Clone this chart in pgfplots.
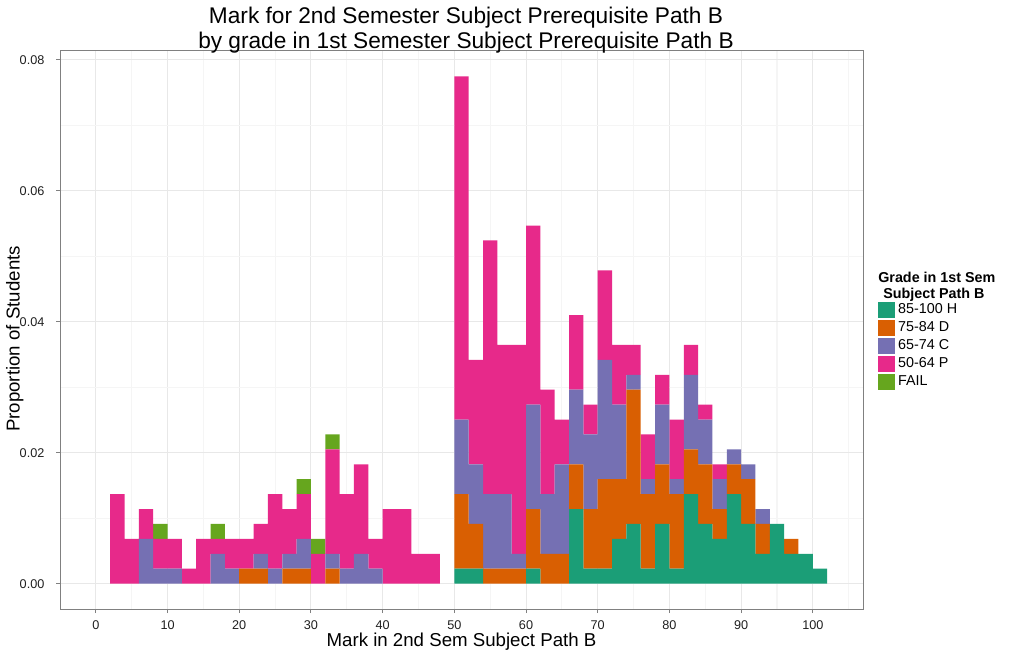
\documentclass[border=0pt]{standalone}
\usepackage{fontspec}
\setmainfont{Liberation Sans}
\usepackage{pgfplots}
\usepackage{pgfplotstable}
\pgfplotsset{compat=1.18}
\definecolor{gradeH}{HTML}{1B9E77}
\definecolor{gradeD}{HTML}{D95F02}
\definecolor{gradeC}{HTML}{7570B3}
\definecolor{gradeP}{HTML}{E7298A}
\definecolor{gradeF}{HTML}{66A61E}

% counts of students per 2-mark bin (bin centre), 439 students in all
\pgfplotstableread{
x H D C P F
3 0 0 0 6 0
5 0 0 0 3 0
7 0 0 3 2 0
9 0 0 1 2 1
11 0 0 1 2 0
13 0 0 0 1 0
15 0 0 0 3 0
17 0 0 2 1 1
19 0 0 1 2 0
21 0 1 0 2 0
23 0 1 1 2 0
25 0 0 1 5 0
27 0 1 1 3 0
29 0 1 2 3 1
31 0 0 0 2 1
33 0 1 1 7 1
35 0 0 1 5 0
37 0 0 2 6 0
39 0 0 1 2 0
41 0 0 0 5 0
43 0 0 0 5 0
45 0 0 0 2 0
47 0 0 0 2 0
49 0 0 0 0 0
51 1 5 5 23 0
53 1 3 4 7 0
55 0 1 5 17 0
57 0 1 5 10 0
59 0 1 1 14 0
61 1 4 7 12 0
63 0 2 4 7 0
65 0 2 6 3 0
67 5 3 5 5 0
69 1 4 5 2 0
71 1 6 8 6 0
73 3 4 5 4 0
75 4 9 1 2 0
77 1 5 1 3 0
79 4 4 4 2 0
81 1 5 1 4 0
83 6 3 5 2 0
85 4 4 3 1 0
87 3 2 2 1 0
89 6 2 1 0 0
91 4 3 1 0 0
93 2 2 1 0 0
95 4 0 0 0 0
97 2 1 0 0 0
99 2 0 0 0 0
101 1 0 0 0 0
}\marks

\begin{document}
\begin{tikzpicture}
\path[use as bounding box] (0,0) rectangle (759.75pt,490.5pt);
\begin{axis}[
  at={(45pt,33.75pt)}, anchor=south west,
  scale only axis, width=602.25pt, height=418.5pt,
  xmin=-5, xmax=107, ymin=-0.00387, ymax=0.08132,
  clip=false,
  ybar stacked, bar width=2,
  xtick={0,10,...,100}, minor xtick={5,15,...,105},
  ytick={0,0.02,...,0.08}, minor ytick={0.01,0.03,0.05,0.07},
  scaled y ticks=false,
  grid=both,
  major grid style={black!9, line width=0.8pt},
  minor grid style={black!4, line width=0.8pt},
  axis line style={black!50, line width=0.75pt},
  tick style={black!50, line width=0.75pt},
  tick align=outside, major tick length=3pt, minor tick length=0pt,
  xtick pos=bottom, ytick pos=left,
  /pgf/number format/assume math mode=true,
  ticklabel style={font=\fontsize{9.5}{11}\selectfont, text=black!88, inner sep=0pt},
  yticklabel style={/pgf/number format/.cd, fixed, fixed zerofill, precision=2},
  xticklabel shift=5.5pt, yticklabel shift=8.5pt,
  every axis title shift=0pt,
  title={Mark for 2nd Semester Subject Prerequisite Path B\\by grade in 1st Semester Subject Prerequisite Path B},
  title style={at={(axis description cs:0.5056,1)}, anchor=south, yshift=-1.5pt, align=center, inner sep=0pt,
    font=\fontsize{17}{18.75}\selectfont},
  xlabel={Mark in 2nd Sem Subject Path B},
  xlabel style={at={(axis description cs:0.5,-0.0665)}, anchor=base, inner sep=0pt,
    font=\fontsize{14}{16}\selectfont},
  ylabel={Proportion of Students},
  ylabel style={at={(axis description cs:-0.0675,0.484)}, anchor=north, inner sep=0pt,
    font=\fontsize{14}{16}\selectfont},
  legend image code/.code={\filldraw[#1, draw=white, line width=0.4pt] (0pt,-6.55pt) rectangle (13.5pt,6.55pt);},
  legend cell align=left,
  legend style={at={(axis description cs:1.0174,0.552)}, anchor=north west, draw=none, fill=none,
    inner sep=0pt, outer sep=0pt, row sep=0pt, column sep=2pt,
    font=\fontsize{10.75}{13}\selectfont, nodes={inner sep=0pt}},
]
\addplot[fill=gradeH, draw=none] table[x=x, y expr=\thisrow{H}/439] {\marks};
\addplot[fill=gradeD, draw=none] table[x=x, y expr=\thisrow{D}/439] {\marks};
\addplot[fill=gradeC, draw=none] table[x=x, y expr=\thisrow{C}/439] {\marks};
\addplot[fill=gradeP, draw=none] table[x=x, y expr=\thisrow{P}/439] {\marks};
\addplot[fill=gradeF, draw=none] table[x=x, y expr=\thisrow{F}/439] {\marks};
\legend{85-100 H, 75-84 D, 65-74 C, 50-64 P, FAIL}
\node[anchor=base west, inner sep=0pt, font=\bfseries\fontsize{10.75}{13}\selectfont]
  at (axis description cs:1.0187,0.586) {Grade in 1st Sem};
\node[anchor=base west, inner sep=0pt, font=\bfseries\fontsize{10.75}{13}\selectfont]
  at (axis description cs:1.0249,0.5573) {Subject Path B};
\end{axis}
\end{tikzpicture}
\end{document}
